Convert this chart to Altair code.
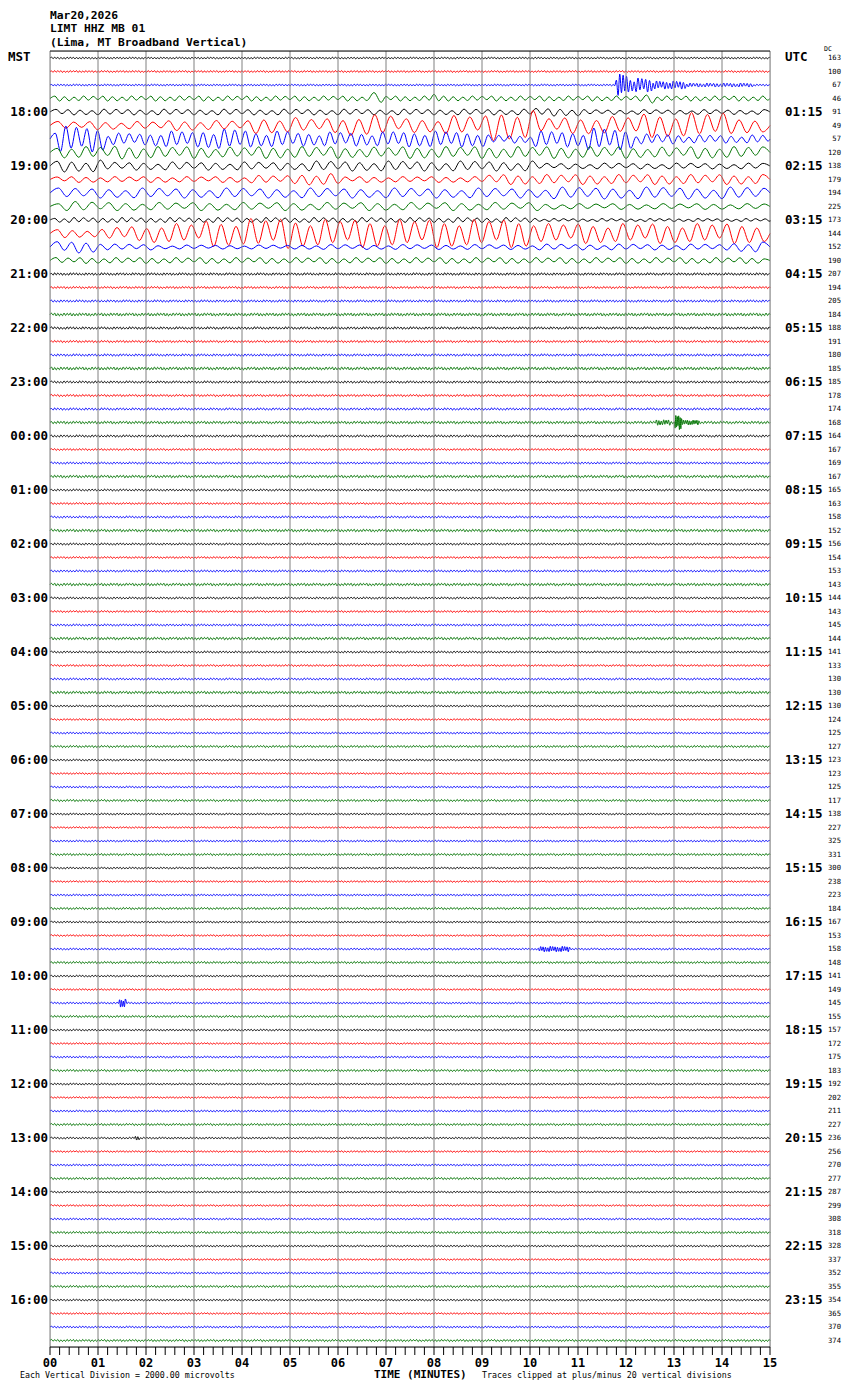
import altair as alt
import pandas as pd

alt.data_transformers.disable_max_rows()

# ---------------- values ----------------
title_lines = ["Mar20,2026", "LIMT HHZ MB 01", "(Lima, MT Broadband Vertical)"]
minute_values = list(range(16))
minute_labels = ["00", "01", "02", "03", "04", "05", "06", "07",
                 "08", "09", "10", "11", "12", "13", "14", "15"]
minor_per_minute = 5
trace_colors = ["#000000", "#ff0000", "#0000ff", "#007400"]

left_labels = ["MST", "18:00", "19:00", "20:00", "21:00", "22:00", "23:00", "00:00",
               "01:00", "02:00", "03:00", "04:00", "05:00", "06:00", "07:00", "08:00",
               "09:00", "10:00", "11:00", "12:00", "13:00", "14:00", "15:00", "16:00"]
right_labels = ["UTC", "01:15", "02:15", "03:15", "04:15", "05:15", "06:15", "07:15",
                "08:15", "09:15", "10:15", "11:15", "12:15", "13:15", "14:15", "15:15",
                "16:15", "17:15", "18:15", "19:15", "20:15", "21:15", "22:15", "23:15"]

dc_values = [163, 100, 67, 46, 91, 49, 57, 120, 138, 179, 194, 225, 173, 144, 152, 190,
             207, 194, 205, 184, 188, 191, 180, 185, 185, 178, 174, 168, 164, 167, 169, 167,
             165, 163, 158, 152, 156, 154, 153, 143, 144, 143, 145, 144, 141, 133, 130, 130,
             130, 124, 125, 127, 123, 123, 125, 117, 138, 227, 325, 331, 300, 238, 223, 184,
             167, 153, 158, 148, 141, 149, 145, 155, 157, 172, 175, 183, 192, 202, 211, 227,
             236, 256, 270, 277, 287, 299, 308, 318, 328, 337, 352, 355, 354, 365, 370, 374]

# background noise half-amplitude of each trace (in trace spacings)
noise_amp = ([0.06, 0.07, 0.06, 0.12] + [0.1] * 12 +
             [0.09, 0.08, 0.08, 0.11, 0.09, 0.08, 0.08, 0.11,
              0.08, 0.08, 0.08, 0.10, 0.08, 0.07, 0.07, 0.10] +
             [0.07, 0.07, 0.07, 0.10] * 4 +
             [0.06, 0.06, 0.06, 0.08] * 12)
noise_period = 0.065

# strongly oscillating traces: dominant period (min) and half-amplitude per minute
active_traces = [3, 4, 5, 6, 7, 8, 9, 10, 11, 12, 13, 14, 15]
active_periods = [0.2, 0.25, 0.33, 0.22, 0.3, 0.3, 0.3, 0.35, 0.35, 0.2, 0.31, 0.3, 0.25]
active_env = [
    [0.185] * 15,
    [0.22] * 10 + [0.30] + [0.18] * 4,
    [0.30, 0.30, 0.37, 0.37, 0.59, 0.52, 0.81, 0.52, 0.74, 1.11, 0.59, 0.67, 0.89, 0.96, 0.59],
    [0.96, 0.44, 0.59, 0.74, 0.59, 0.52, 0.52, 0.59, 0.59, 0.30, 0.59, 0.81, 0.37, 0.30, 0.30],
    [0.44, 0.48, 0.44, 0.40, 0.44, 0.44, 0.40, 0.44, 0.44, 0.44, 0.44, 0.44, 0.40, 0.44, 0.44],
    [0.44, 0.30, 0.30, 0.30, 0.30, 0.37, 0.37, 0.37, 0.37, 0.37, 0.22, 0.22, 0.22, 0.22, 0.22],
    [0.22, 0.22, 0.22, 0.22, 0.30, 0.44, 0.22, 0.22, 0.22, 0.37, 0.37, 0.37, 0.37, 0.37, 0.37],
    [0.37] * 10 + [0.44] * 5,
    [0.37] + [0.30] * 9 + [0.22] * 5,
    [0.185] * 10 + [0.11] * 5,
    [0.30, 0.52, 0.74, 0.96, 1.11, 1.04, 1.04, 1.04, 1.04, 1.04, 0.74, 0.74, 0.74, 0.74, 0.74],
    [0.44, 0.22, 0.15, 0.15, 0.15, 0.185, 0.185, 0.185, 0.185, 0.185, 0.22, 0.22, 0.22, 0.22, 0.37],
    [0.22] * 15,
]

# local events: trace, start min, end min, half-amplitude, period
event_trace = [2, 2, 2, 2, 3, 3, 3, 27, 27, 27, 66, 70, 80]
event_start = [11.75, 12.0, 12.5, 13.2, 6.55, 7.85, 12.2, 12.6, 13.0, 13.15, 10.15, 1.42, 1.75]
event_end = [12.0, 12.5, 13.2, 14.6, 6.85, 8.05, 12.45, 12.9, 13.15, 13.5, 10.8, 1.55, 1.85]
event_amp = [0.81, 0.52, 0.30, 0.15, 0.44, 0.37, 0.37, 0.20, 0.52, 0.18, 0.20, 0.30, 0.15]
event_period = [0.07, 0.08, 0.07, 0.07, 0.3, 0.2, 0.25, 0.05, 0.03, 0.04, 0.05, 0.04, 0.05]

wiggle_shape = [1.0, 0.7, 0.9, 0.55, 0.8, 1.0, 0.65, 0.85, 0.45, 0.95]

footnote_left = "Each Vertical Division = 2000.00 microvolts"
footnote_mid = "TIME (MINUTES)"
footnote_right = "Traces clipped at plus/minus 20 vertical divisions"

# ---------------- build tables ----------------
n_traces = len(dc_values)


def local(k, t):
    for tr, s, e, a, p in zip(event_trace, event_start, event_end, event_amp, event_period):
        if tr == k and s <= t < e:
            return a, p
    if k in active_traces:
        i = active_traces.index(k)
        return active_env[i][min(int(t), 14)], active_periods[i]
    return noise_amp[k], noise_period


ts, vs, ks = [], [], []
for k in range(n_traces):
    t, sign, j = 0.0, 1, 3 * k
    ts.append(0.0); vs.append(float(k)); ks.append(k)
    while True:
        a, p = local(k, t)
        t += p / 2
        if t >= 15:
            break
        val = sign * a * wiggle_shape[j % len(wiggle_shape)]
        ts.append(round(t, 4)); vs.append(round(k - val, 3)); ks.append(k)
        sign = -sign
        j += 1
    ts.append(15.0); vs.append(float(k)); ks.append(k)

df_lines = pd.DataFrame({"t": ts, "v": vs, "k": ks})
df_grid = pd.DataFrame({"m": minute_values})
df_ticks = pd.DataFrame({"m": [i / minor_per_minute for i in range(15 * minor_per_minute + 1)]})
df_tlab = pd.DataFrame({"m": minute_values, "lab": minute_labels})
df_left = pd.DataFrame({"k": [4 * i for i in range(1, 24)], "lab": left_labels[1:]})
df_right = pd.DataFrame({"k": [4 * i for i in range(1, 24)], "lab": right_labels[1:]})
df_dc = pd.DataFrame({"k": list(range(n_traces)), "lab": [str(d) for d in dc_values]})

W, H = 720, 1296
FONT = "DejaVu Sans Mono"
HOUR_SIZE = 12.5

x_scale = alt.Scale(domain=[0, 15], nice=False, zero=False)
y_scale = alt.Scale(domain=[-0.52, n_traces - 0.52], reverse=True, nice=False, zero=False)

lines = alt.Chart(df_lines).transform_calculate(
    c="'c' + (datum.k % 4)"
).mark_line(strokeWidth=1, interpolate="monotone").encode(
    x=alt.X("t:Q", scale=x_scale, axis=None),
    y=alt.Y("v:Q", scale=y_scale, axis=None),
    detail="k:N",
    color=alt.Color("c:N", scale=alt.Scale(domain=["c0", "c1", "c2", "c3"], range=trace_colors),
                    legend=None),
)

grid = alt.Chart(df_grid).mark_rule(color="#808080", strokeWidth=1).encode(
    x=alt.X("m:Q", scale=x_scale, axis=None), y=alt.value(0), y2=alt.value(H)
)

frame = alt.Chart(pd.DataFrame({"yy": [0, H]})).mark_rule(color="black", strokeWidth=1).encode(
    x=alt.value(0), x2=alt.value(W), y=alt.Y("yy:Q", scale=None)
)

ticks = alt.Chart(df_ticks).mark_rule(color="black", strokeWidth=1).encode(
    x=alt.X("m:Q", scale=x_scale, axis=None), y=alt.value(H), y2=alt.value(H + 8)
)

tick_labels = alt.Chart(df_tlab).mark_text(
    align="center", baseline="middle", font=FONT, fontWeight="bold", fontSize=12, color="black"
).encode(x=alt.X("m:Q", scale=x_scale, axis=None), y=alt.value(H + 16), text="lab:N")

left_txt = alt.Chart(df_left).mark_text(
    align="right", baseline="middle", font=FONT, fontWeight="bold", fontSize=HOUR_SIZE, color="black"
).encode(x=alt.value(-2), y=alt.Y("k:Q", scale=y_scale, axis=None), text="lab:N")

right_txt = alt.Chart(df_right).mark_text(
    align="left", baseline="middle", font=FONT, fontWeight="bold", fontSize=HOUR_SIZE, color="black"
).encode(x=alt.value(735), y=alt.Y("k:Q", scale=y_scale, axis=None), text="lab:N")

dc_txt = alt.Chart(df_dc).mark_text(
    align="right", baseline="middle", font=FONT, fontSize=7.2, color="black"
).encode(x=alt.value(791), y=alt.Y("k:Q", scale=y_scale, axis=None), text="lab:N")

mst = alt.Chart(pd.DataFrame({"lab": [left_labels[0]]})).mark_text(
    align="left", baseline="middle", font=FONT, fontWeight="bold", fontSize=HOUR_SIZE, color="black"
).encode(x=alt.value(-42), y=alt.value(6), text="lab:N")
utc = alt.Chart(pd.DataFrame({"lab": [right_labels[0]]})).mark_text(
    align="left", baseline="middle", font=FONT, fontWeight="bold", fontSize=HOUR_SIZE, color="black"
).encode(x=alt.value(735), y=alt.value(6), text="lab:N")
dc_head = alt.Chart(pd.DataFrame({"lab": ["DC"]})).mark_text(
    align="left", baseline="alphabetic", font=FONT, fontSize=6.5, color="black"
).encode(x=alt.value(774), y=alt.value(0), text="lab:N")

titles = alt.Chart(pd.DataFrame({"lab": title_lines, "row": [0, 1, 2]})).transform_calculate(
    yy="-32.5 + datum.row * 13.7"
).mark_text(
    align="left", baseline="alphabetic", font=FONT, fontWeight="bold", fontSize=11.3, color="black"
).encode(x=alt.value(0), y=alt.Y("yy:Q", scale=None), text="lab:N")

foot1 = alt.Chart(pd.DataFrame({"lab": [footnote_left]})).mark_text(
    align="left", baseline="middle", font=FONT, fontSize=8.3, color="black"
).encode(x=alt.value(-30), y=alt.value(H + 29), text="lab:N")
foot2 = alt.Chart(pd.DataFrame({"lab": [footnote_mid]})).mark_text(
    align="left", baseline="middle", font=FONT, fontWeight="bold", fontSize=11, color="black"
).encode(x=alt.value(324), y=alt.value(H + 28), text="lab:N")
foot3 = alt.Chart(pd.DataFrame({"lab": [footnote_right]})).mark_text(
    align="left", baseline="middle", font=FONT, fontSize=8.3, color="black"
).encode(x=alt.value(432), y=alt.value(H + 29), text="lab:N")

chart = alt.layer(
    lines, grid, frame, ticks, tick_labels, left_txt, right_txt, dc_txt, mst, utc, dc_head,
    titles, foot1, foot2, foot3
).properties(
    width=W, height=H,
    padding={"left": 42, "top": 43, "right": 72, "bottom": 35},
    autosize=alt.AutoSizeParams(type="none"),
).configure_view(stroke=None).configure(background="white")

chart.save("out.html", embed_options={"renderer": "svg", "actions": False})
